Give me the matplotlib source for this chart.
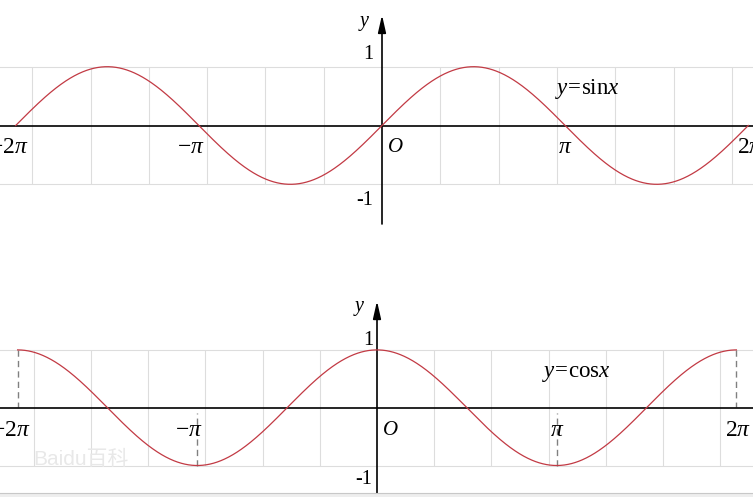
import numpy as np
import matplotlib
matplotlib.use("Agg")
import matplotlib.pyplot as plt
from matplotlib.patches import Rectangle
from matplotlib.lines import Line2D

plt.rcParams['font.family'] = ['Liberation Serif', 'Noto Sans CJK SC', 'DejaVu Sans']
plt.rcParams['mathtext.fontset'] = 'custom'
plt.rcParams['mathtext.rm'] = 'Liberation Serif'
plt.rcParams['mathtext.it'] = 'Liberation Serif:italic'

# ---- data ----
domain_pi = [-2, 2]                       # curves drawn over [-2pi, 2pi]
tick_pi = [-2, -1, 1, 2]                  # labelled multiples of pi
tick_labels = [r'$-2\pi$', r'$-\pi$', r'$\pi$', r'$2\pi$']
grid_x = [-6, -5, -4, -3, -2, -1, 1, 2, 3, 4, 5, 6]
y_ticks = [1, -1]
y_tick_labels = ['1', '-1']
titles = [r'$y\!=\!\mathrm{sin}x$', r'$y\!=\!\mathrm{cos}x$']
cos_dash_pi = [-2, -1, 1, 2]              # dashed drops in cos panel
funcs = [np.sin, np.cos]

W, H = 753, 497
fig = plt.figure(figsize=(W / 100, H / 100), dpi=100)
fig.patch.set_facecolor('white')

# panel geometry (pixels): row_top, row_bot, origin x, origin y, unit x, unit y
panels = [
    dict(rows=(0, 248), x0=382, y0=125.5, ux=58.3, uy=58.8,
         yaxis=(-1.675, 1.88), ylab=(-0.31, 1.73), one=(-0.155, 1.2), mone=(-0.155, -1.27),
         O=(0.086, -0.37), tick_y=-0.37, title=(2.97, 0.62)),
    dict(rows=(248, 497), x0=377, y0=407.7, ux=57.2, uy=57.8,
         yaxis=(-1.476, 1.846), ylab=(-0.31, 1.72), one=(-0.07, 1.17), mone=(-0.09, -1.25),
         O=(0.087, -0.39), tick_y=-0.39, title=(2.88, 0.6)),
]
tick_dx_px = [-7, -8, 0, 2]

red = '#c23a44'
grid_c = '#dddddd'
fs = 14.5
fs_pi = 17

for i, p in enumerate(panels):
    rt, rb = p['rows']
    ax = fig.add_axes([0, 1 - rb / H, 1, (rb - rt) / H])
    ax.set_xlim(-p['x0'] / p['ux'], (W - p['x0']) / p['ux'])
    ax.set_ylim((p['y0'] - rb) / p['uy'], (p['y0'] - rt) / p['uy'])
    ax.axis('off')

    for yv in y_ticks:
        ax.axhline(yv, color=grid_c, lw=0.8, zorder=1)
    ax.vlines(grid_x, -1, 1, color=grid_c, lw=0.8, zorder=1)
    ax.axhline(0, color='black', lw=1.2, zorder=3)
    ax.annotate('', xy=(0, p['yaxis'][1]), xytext=(0, p['yaxis'][0]),
                arrowprops=dict(arrowstyle='-|>,head_length=0.75,head_width=0.17',
                                lw=1.2, color='black', mutation_scale=14,
                                shrinkA=0, shrinkB=0), zorder=4)

    x = np.linspace(domain_pi[0] * np.pi, domain_pi[1] * np.pi, 1200)
    ax.plot(x, funcs[i](x), color=red, lw=0.9, zorder=5)

    if i == 1:
        for k in cos_dash_pi:
            yv = np.cos(k * np.pi)
            y_end = 0.02 if yv > 0 else -0.09
            ax.plot([k * np.pi, k * np.pi], [yv, y_end], color='#808080', lw=1.0,
                    ls=(0, (4.5, 3)), zorder=2)

    for k, lab, dx in zip(tick_pi, tick_labels, tick_dx_px):
        ax.text(k * np.pi + dx / p['ux'], p['tick_y'], lab, ha='center', va='center',
                fontsize=fs_pi, zorder=6)
    ax.text(*p['O'], r'$O$', ha='left', va='center', fontsize=fs + 0.5, zorder=6)
    ax.text(*p['ylab'], r'$y$', ha='center', va='center', fontsize=fs, zorder=6)
    ax.text(*p['one'], y_tick_labels[0], ha='right', va='center', fontsize=fs, zorder=6)
    ax.text(*p['mone'], y_tick_labels[1], ha='right', va='center', fontsize=fs, zorder=6)
    ax.text(*p['title'], titles[i], ha='left', va='center', fontsize=16.5, zorder=6)

# watermark
fig.text(33 / W, 1 - 459 / H, 'Baidu百科', color='#e8e8e8', fontsize=15,
         family=['Liberation Sans', 'Noto Sans CJK SC'], ha='left', va='center')

# bottom strip
fig.patches.append(Rectangle((0, 0), 1, 4 / H, transform=fig.transFigure,
                             facecolor='#eeeeee', edgecolor='none'))
fig.lines.append(Line2D([0, 1], [4 / H, 4 / H], transform=fig.transFigure,
                        color='#c8c8c8', lw=0.8))

fig.savefig('out.png', dpi=100)
